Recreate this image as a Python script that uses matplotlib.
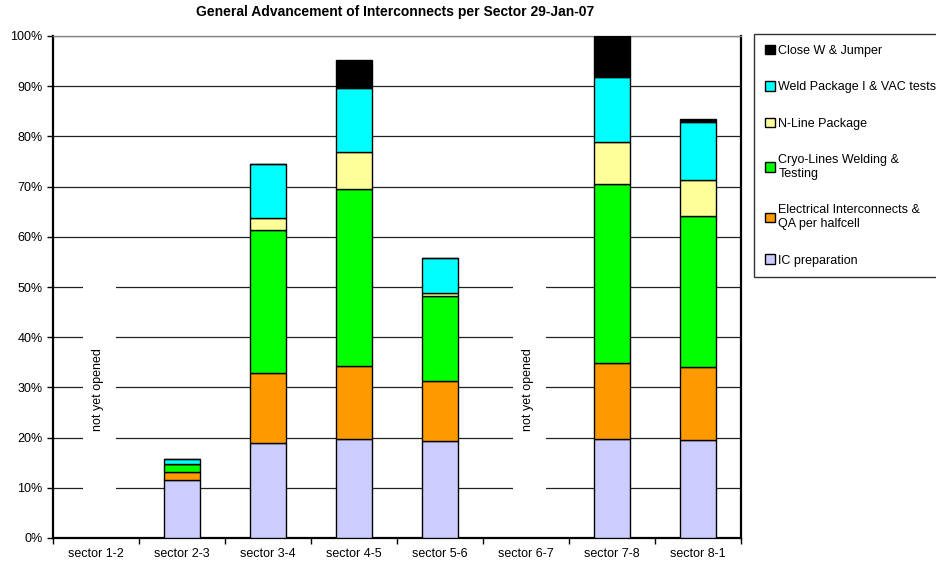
import numpy as np
import matplotlib.pyplot as plt
from matplotlib.patches import Patch, Rectangle

plt.rcParams['font.family'] = ['Liberation Sans', 'DejaVu Sans']

# Data (percent, per sector)
sectors = ['sector 1-2', 'sector 2-3', 'sector 3-4', 'sector 4-5',
           'sector 5-6', 'sector 6-7', 'sector 7-8', 'sector 8-1']
ic_prep = np.array([0, 11.6, 18.9, 19.7, 19.3, 0, 19.8, 19.6])
electrical = np.array([0, 1.6, 13.9, 14.6, 12.0, 0, 15.0, 14.5])
cryo = np.array([0, 1.6, 28.6, 35.2, 17.0, 0, 35.7, 30.0])
nline = np.array([0, 0.0, 2.3, 7.3, 0.5, 0, 8.3, 7.2])
weld = np.array([0, 0.9, 10.9, 12.9, 6.9, 0, 13.1, 11.6])
close_w = np.array([0, 0.0, 0.0, 5.5, 0.0, 0, 8.1, 0.6])
not_opened = ['sector 1-2', 'sector 6-7']

series = [
    ('IC preparation', ic_prep, '#CCCCFF'),
    ('Electrical Interconnects &\nQA per halfcell', electrical, '#FF9900'),
    ('Cryo-Lines Welding &\nTesting', cryo, '#00FF00'),
    ('N-Line Package', nline, '#FFFF99'),
    ('Weld Package I & VAC tests', weld, '#00FFFF'),
    ('Close W & Jumper', close_w, '#000000'),
]

fig = plt.figure(figsize=(9.37, 5.62), dpi=100)
ax = fig.add_axes([53 / 937, 1 - 538 / 562, (741 - 53) / 937, (538 - 36) / 562])

x = np.arange(len(sectors))
bottom = np.zeros(len(sectors))
for name, vals, col in series:
    ax.bar(x, vals, width=0.41, bottom=bottom, color=col,
           edgecolor='black', linewidth=1, zorder=3)
    bottom += vals

ax.set_xlim(-0.5, len(sectors) - 0.5)
ax.set_ylim(0, 100)
ax.set_yticks(np.arange(0, 101, 10))
ax.set_yticklabels([f'{v}%' for v in range(0, 101, 10)])
ax.set_xticks(x)
ax.set_xticklabels(sectors)
ax.set_xticks(np.arange(-0.5, len(sectors)), minor=True)
ax.tick_params(axis='both', labelsize=9, length=4, width=1)
ax.tick_params(axis='x', which='major', length=0, pad=7)
ax.tick_params(axis='x', which='minor', length=4, width=1)
ax.yaxis.grid(True, color='#222222', linewidth=0.9, zorder=0)
ax.set_axisbelow(True)
for s in ax.spines.values():
    s.set_linewidth(1.6)
    s.set_color('black')
ax.spines['top'].set_linewidth(1)
ax.spines['top'].set_color('#888888')

for s in not_opened:
    i = sectors.index(s)
    ax.add_patch(Rectangle((i - 0.15, 2), 0.38, 55, facecolor='white',
                           edgecolor='none', zorder=2))
    ax.text(i + 0.02, 29.5, 'not yet opened', rotation=90,
            ha='center', va='center', fontsize=9, zorder=4)

fig.text(395 / 937, 1 - 12 / 562,
         'General Advancement of Interconnects per Sector 29-Jan-07',
         ha='center', va='center', fontsize=10, fontweight='bold')

handles = [Patch(facecolor=c, edgecolor='black', label=n) for n, v, c in series][::-1]
leg = fig.legend(handles=handles, loc='upper left',
                 bbox_to_anchor=(754 / 937, 1 - 34 / 562), fontsize=9,
                 frameon=True, fancybox=False, edgecolor='black',
                 handlelength=0.8, handleheight=0.8, handletextpad=0.3,
                 labelspacing=1.95, borderpad=0.85, borderaxespad=0)
leg.get_frame().set_linewidth(1)

fig.savefig('out.png', dpi=100)
